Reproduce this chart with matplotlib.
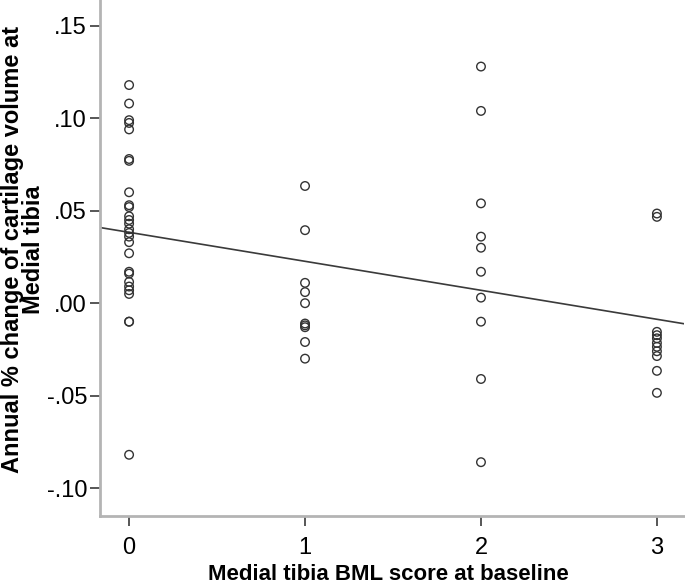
import numpy as np
import matplotlib
matplotlib.use('Agg')
import matplotlib.pyplot as plt

plt.rcParams['font.family'] = ['Liberation Sans', 'DejaVu Sans']

# BML score groups and the annual % change
score0 = [0.118, 0.108, 0.099, 0.0975, 0.094, 0.078, 0.077, 0.060, 0.053, 0.052,
          0.047, 0.045, 0.043, 0.040, 0.038, 0.036, 0.033, 0.027, 0.017, 0.016,
          0.0115, 0.009, 0.007, 0.005, -0.010, -0.010, -0.082]
score1 = [0.0634, 0.0395, 0.011, 0.006, 0.000, -0.011, -0.012, -0.013, -0.021, -0.030]
score2 = [0.128, 0.104, 0.054, 0.036, 0.030, 0.017, 0.003, -0.010, -0.041, -0.086]
score3 = [0.0485, 0.0467, -0.0155, -0.0173, -0.019, -0.0215, -0.0236, -0.026,
          -0.0286, -0.0366, -0.0485]

groups = [score0, score1, score2, score3]
yticks = [-0.10, -0.05, 0.00, 0.05, 0.10, 0.15]
ytick_labels = ['-.10', '-.05', '.00', '.05', '.10', '.15']

x = np.concatenate([np.full(len(g), i) for i, g in enumerate(groups)])
y = np.concatenate([np.array(g) for g in groups])

fig = plt.figure(figsize=(6.85, 5.86), dpi=100)
ax = fig.add_axes([0.1453, 0.1195, 0.853, 0.8805])

ax.scatter(x, y, s=38, facecolors='none', edgecolors='#333333', linewidths=1.0, zorder=3)

xlim = (-0.168, 3.153)
slope, intercept = np.polyfit(x, y, 1)
xs = np.array(xlim)
ax.plot(xs, intercept + slope * xs, color='#3a3a3a', lw=1.2, zorder=2)

ax.set_xlim(*xlim)
ax.set_ylim(-0.1151, 0.164)
ax.set_xticks([0, 1, 2, 3])
ax.set_yticks(yticks)
ax.set_yticklabels(ytick_labels)

for s in ['top', 'right']:
    ax.spines[s].set_visible(False)
for s in ['left', 'bottom']:
    ax.spines[s].set_color('#b4b4b4')
    ax.spines[s].set_linewidth(2)

ax.tick_params(axis='both', labelsize=17, colors='#3a3a3a', labelcolor='black',
               length=7, width=1.2, direction='out')
ax.tick_params(axis='x', pad=8)
ax.tick_params(axis='y', pad=2)

ax.set_xlabel('Medial tibia BML score at baseline', fontsize=16, fontweight='bold', va='center')
ax.xaxis.set_label_coords(0.495, -0.113)
ax.set_ylabel('Annual % change of cartilage volume at\nMedial tibia', fontsize=17,
              fontweight='bold', va='center', linespacing=0.92)
ax.yaxis.set_label_coords(-0.131, 0.517)

fig.savefig('out.png', dpi=100)
